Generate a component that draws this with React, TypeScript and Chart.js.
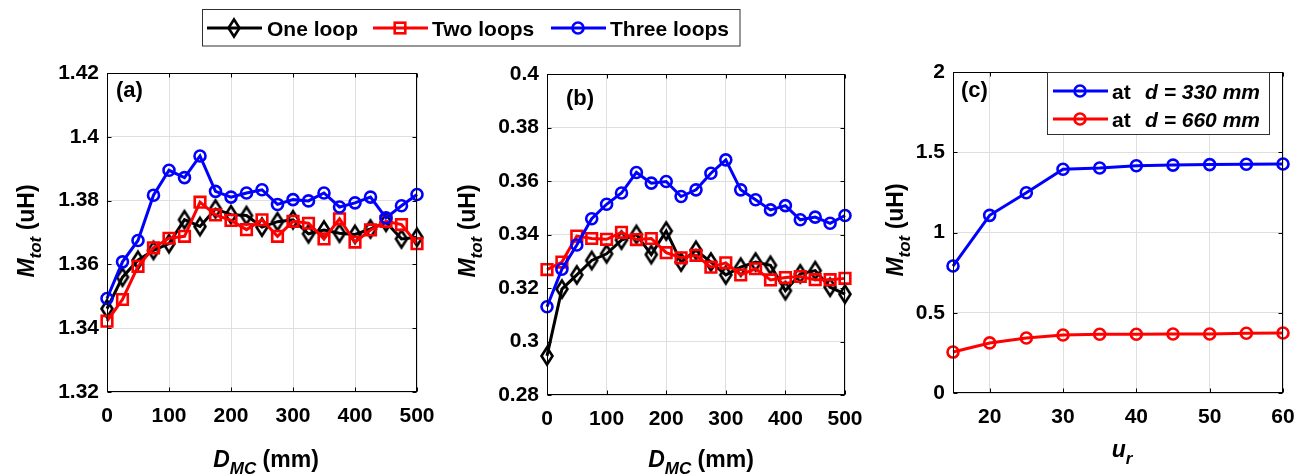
import React, { useEffect, useRef } from 'react';
import { Chart, registerables } from 'chart.js';

Chart.register(...registerables);

// ---------------- data ----------------
const D_MC_MM = [0, 25, 50, 75, 100, 125, 150, 175, 200, 225, 250, 275, 300, 325, 350, 375, 400, 425, 450, 475, 500];

// panel (a)
const A_ONE_LOOP = [1.3461, 1.356, 1.3613, 1.3644, 1.3665, 1.374, 1.3719, 1.3774, 1.3756, 1.3753, 1.3717, 1.3734, 1.374, 1.3696, 1.3708, 1.3698, 1.3694, 1.3711, 1.3732, 1.368, 1.3685];
const A_TWO_LOOPS = [1.3422, 1.349, 1.3594, 1.3652, 1.3682, 1.3688, 1.3795, 1.3755, 1.3738, 1.3709, 1.374, 1.3688, 1.3735, 1.3729, 1.368, 1.3743, 1.367, 1.3708, 1.3735, 1.3725, 1.3665];
const A_THREE_LOOPS = [1.3493, 1.3608, 1.3675, 1.3817, 1.3895, 1.3872, 1.394, 1.3829, 1.3811, 1.3824, 1.3834, 1.3788, 1.3803, 1.3799, 1.3824, 1.378, 1.3793, 1.3811, 1.3746, 1.3784, 1.3819];

// panel (b)
const B_ONE_LOOP = [0.2946, 0.3196, 0.3249, 0.3303, 0.3328, 0.3379, 0.34, 0.3325, 0.3413, 0.3297, 0.3341, 0.3297, 0.3249, 0.3278, 0.3297, 0.3285, 0.319, 0.3253, 0.3265, 0.3203, 0.3177];
const B_TWO_LOOPS = [0.3269, 0.3297, 0.3394, 0.3385, 0.3382, 0.3408, 0.3381, 0.3385, 0.3332, 0.3313, 0.3322, 0.3278, 0.3294, 0.3249, 0.3272, 0.323, 0.3239, 0.3243, 0.3231, 0.3231, 0.3236];
const B_THREE_LOOPS = [0.313, 0.327, 0.3361, 0.3459, 0.3513, 0.3555, 0.3632, 0.3592, 0.3598, 0.3542, 0.3567, 0.3629, 0.3679, 0.3567, 0.353, 0.3492, 0.3508, 0.3455, 0.3465, 0.3442, 0.3471];

// panel (c)
const UR_VALUES = [15, 20, 25, 30, 35, 40, 45, 50, 55, 60];
const C_D330 = [0.791, 1.107, 1.248, 1.394, 1.402, 1.416, 1.42, 1.423, 1.425, 1.427];
const C_D660 = [0.255, 0.312, 0.343, 0.361, 0.366, 0.366, 0.368, 0.368, 0.372, 0.374];

const LOOP_LABELS = ['One loop', 'Two loops', 'Three loops'];
const C_DISTANCES = ['330', '660'];

// tick labels
const D_TICKS = [0, 100, 200, 300, 400, 500];
const A_Y_TICKS = [1.32, 1.34, 1.36, 1.38, 1.4, 1.42];
const B_Y_TICKS = [0.28, 0.3, 0.32, 0.34, 0.36, 0.38, 0.4];
const C_X_TICKS = [20, 30, 40, 50, 60];
const C_Y_TICKS = [0, 0.5, 1, 1.5, 2];

// ---------------- styles / layout ----------------
const W = 1307;
const H = 475;
const FONT = '"Liberation Sans", Arial, Helvetica, sans-serif';
const LOOP_COLORS = ['#000000', '#ff0000', '#0000ff'];
const C_COLORS = ['#0000ff', '#ff0000'];
const GRID = '#dfdfdf';
const TICK_SIZE = 21;
const TITLE_SIZE = 23;
const SUB_SIZE = 17;
const Y_AXIS_W = 70;
const X_AXIS_H = 40;
const LINE_W = 3;
const MARK_W = 2.6;

type Geom = { left: number; right: number; top: number; bottom: number };
const GEOM_A: Geom = { left: 107, right: 417, top: 73, bottom: 392 };
const GEOM_B: Geom = { left: 547, right: 845, top: 74, bottom: 395 };
const GEOM_C: Geom = { left: 953, right: 1283, top: 72, bottom: 393 };

type Seg = { t: string; italic?: boolean; sub?: boolean };

const fmt = (v: any) => String(Number(Number(v).toFixed(4)));

function drawRich(ctx: CanvasRenderingContext2D, segs: Seg[], cx: number, baseline: number, rotate: boolean) {
  const fontOf = (s: Seg) => `${s.italic ? 'italic ' : ''}bold ${s.sub ? SUB_SIZE : TITLE_SIZE}px ${FONT}`;
  ctx.save();
  let total = 0;
  const widths = segs.map((s) => {
    ctx.font = fontOf(s);
    const w = ctx.measureText(s.t).width;
    total += w;
    return w;
  });
  if (rotate) {
    ctx.translate(baseline, cx);
    ctx.rotate(-Math.PI / 2);
  } else {
    ctx.translate(cx, baseline);
  }
  ctx.fillStyle = '#000';
  ctx.textAlign = 'left';
  ctx.textBaseline = 'alphabetic';
  let x = -total / 2;
  segs.forEach((s, i) => {
    ctx.font = fontOf(s);
    ctx.fillText(s.t, x, s.sub ? 7 : 0);
    x += widths[i];
  });
  ctx.restore();
}

const Y_TITLE: Seg[] = [{ t: 'M', italic: true }, { t: 'tot', italic: true, sub: true }, { t: ' (uH)' }];
const D_TITLE: Seg[] = [{ t: 'D', italic: true }, { t: 'MC', italic: true, sub: true }, { t: ' (mm)' }];
const U_TITLE: Seg[] = [{ t: 'u', italic: true }, { t: 'r', italic: true, sub: true }];

function diamondCanvas(color: string) {
  const c = document.createElement('canvas');
  c.width = 18;
  c.height = 24;
  const g = c.getContext('2d')!;
  g.strokeStyle = color;
  g.lineWidth = MARK_W;
  g.beginPath();
  g.moveTo(9, 3.5);
  g.lineTo(14.5, 12);
  g.lineTo(9, 20.5);
  g.lineTo(3.5, 12);
  g.closePath();
  g.stroke();
  return c;
}

function drawMarker(ctx: CanvasRenderingContext2D, kind: string, x: number, y: number, color: string, diamond: HTMLCanvasElement) {
  ctx.save();
  ctx.strokeStyle = color;
  ctx.lineWidth = MARK_W;
  if (kind === 'diamond') {
    ctx.drawImage(diamond, x - diamond.width / 2, y - diamond.height / 2);
  } else if (kind === 'rect') {
    ctx.strokeRect(x - 5.3, y - 5.3, 10.6, 10.6);
  } else {
    ctx.beginPath();
    ctx.arc(x, y, 5.5, 0, Math.PI * 2);
    ctx.stroke();
  }
  ctx.restore();
}

const framePlugin = {
  id: 'frame',
  afterDraw(chart: any) {
    const { ctx, chartArea: a, scales } = chart;
    ctx.save();
    ctx.strokeStyle = '#000';
    ctx.lineWidth = 1;
    const L = Math.round(a.left) + 0.5;
    const R = Math.round(a.right) - 0.5;
    const T = Math.round(a.top) + 0.5;
    const B = Math.round(a.bottom) - 0.5;
    ctx.strokeRect(L, T, R - L, B - T);
    const tl = 4;
    ctx.beginPath();
    scales.x.ticks.forEach((t: any) => {
      const px = Math.round(scales.x.getPixelForValue(t.value)) + 0.5;
      ctx.moveTo(px, B);
      ctx.lineTo(px, B - tl);
      ctx.moveTo(px, T);
      ctx.lineTo(px, T + tl);
    });
    scales.y.ticks.forEach((t: any) => {
      const py = Math.round(scales.y.getPixelForValue(t.value)) + 0.5;
      ctx.moveTo(L, py);
      ctx.lineTo(L + tl, py);
      ctx.moveTo(R, py);
      ctx.lineTo(R - tl, py);
    });
    ctx.stroke();
    ctx.restore();
  },
};

type Panel = {
  geom: Geom;
  datasets: any[];
  xMin: number;
  xMax: number;
  xTicks: number[];
  yMin: number;
  yMax: number;
  yTicks: number[];
  decor: (ctx: CanvasRenderingContext2D) => void;
};

function buildConfig(p: Panel): any {
  const g = p.geom;
  const tickFont = { family: FONT, size: TICK_SIZE, weight: 'bold' as const };
  return {
    type: 'line',
    data: { datasets: p.datasets },
    options: {
      animation: false,
      responsive: false,
      devicePixelRatio: 1,
      events: [],
      layout: {
        padding: { left: g.left - Y_AXIS_W, right: W - g.right, top: g.top, bottom: H - g.bottom - X_AXIS_H },
      },
      plugins: { legend: { display: false }, tooltip: { enabled: false }, title: { display: false } },
      scales: {
        x: {
          type: 'linear',
          min: p.xMin,
          max: p.xMax,
          afterBuildTicks: (s: any) => {
            s.ticks = p.xTicks.map((v) => ({ value: v }));
          },
          afterFit: (s: any) => {
            s.height = X_AXIS_H;
          },
          grid: { color: GRID, lineWidth: 1, drawTicks: false },
          border: { display: false },
          ticks: { font: tickFont, color: '#000', padding: 12, maxRotation: 0, autoSkip: false, callback: fmt },
        },
        y: {
          type: 'linear',
          min: p.yMin,
          max: p.yMax,
          afterBuildTicks: (s: any) => {
            s.ticks = p.yTicks.map((v) => ({ value: v }));
          },
          afterFit: (s: any) => {
            s.width = Y_AXIS_W;
          },
          grid: { color: GRID, lineWidth: 1, drawTicks: false },
          border: { display: false },
          ticks: { font: tickFont, color: '#000', padding: 8, autoSkip: false, callback: fmt },
        },
      },
    },
    plugins: [
      framePlugin,
      {
        id: 'decor',
        afterDraw(chart: any) {
          p.decor(chart.ctx);
        },
      },
    ],
  };
}

function loopDatasets(xs: number[], series: number[][], diamond: HTMLCanvasElement) {
  const styles: any[] = [diamond, 'rect', 'circle'];
  const radii = [7, 7.5, 5.5];
  return series.map((ys, i) => ({
    label: LOOP_LABELS[i],
    data: xs.map((x, j) => ({ x, y: ys[j] })),
    borderColor: LOOP_COLORS[i],
    borderWidth: LINE_W,
    pointStyle: styles[i],
    pointRadius: radii[i],
    pointHoverRadius: radii[i],
    pointBorderWidth: MARK_W,
    pointBorderColor: LOOP_COLORS[i],
    pointBackgroundColor: 'rgba(0,0,0,0)',
    tension: 0,
    fill: false,
    clip: false,
    order: 3 - i,
  }));
}

function cDatasets() {
  return [C_D330, C_D660].map((ys, i) => ({
    label: `at d = ${C_DISTANCES[i]} mm`,
    data: UR_VALUES.map((x, j) => ({ x, y: ys[j] })),
    borderColor: C_COLORS[i],
    borderWidth: LINE_W,
    pointStyle: 'circle',
    pointRadius: 5.5,
    pointHoverRadius: 5.5,
    pointBorderWidth: MARK_W,
    pointBorderColor: C_COLORS[i],
    pointBackgroundColor: 'rgba(0,0,0,0)',
    tension: 0,
    fill: false,
    clip: false,
    order: i + 1,
  }));
}

function drawTag(ctx: CanvasRenderingContext2D, text: string, x: number, baseline: number) {
  ctx.save();
  ctx.fillStyle = '#000';
  ctx.font = `bold 22px ${FONT}`;
  ctx.textAlign = 'left';
  ctx.textBaseline = 'alphabetic';
  ctx.fillText(text, x, baseline);
  ctx.restore();
}

function drawTopLegend(ctx: CanvasRenderingContext2D, diamond: HTMLCanvasElement) {
  ctx.save();
  ctx.fillStyle = '#fff';
  ctx.fillRect(203, 10, 537, 36);
  ctx.strokeStyle = '#303030';
  ctx.lineWidth = 1;
  ctx.strokeRect(202.5, 9.5, 537.5, 36.5);
  const items = [
    { x0: 207, x1: 262, mx: 234, tx: 267, kind: 'diamond' },
    { x0: 373, x1: 428, mx: 400, tx: 432, kind: 'rect' },
    { x0: 551, x1: 606, mx: 578, tx: 610, kind: 'circle' },
  ];
  const cy = 28;
  items.forEach((it, i) => {
    ctx.strokeStyle = LOOP_COLORS[i];
    ctx.lineWidth = LINE_W;
    ctx.beginPath();
    ctx.moveTo(it.x0, cy);
    ctx.lineTo(it.x1, cy);
    ctx.stroke();
    drawMarker(ctx, it.kind, it.mx, cy, LOOP_COLORS[i], diamond);
    ctx.fillStyle = '#000';
    ctx.font = `bold 21px ${FONT}`;
    ctx.textAlign = 'left';
    ctx.textBaseline = 'alphabetic';
    ctx.fillText(LOOP_LABELS[i], it.tx, 36);
  });
  ctx.restore();
}

function drawCLegend(ctx: CanvasRenderingContext2D, diamond: HTMLCanvasElement) {
  ctx.save();
  ctx.fillStyle = '#fff';
  ctx.fillRect(1047, 72, 223, 63);
  ctx.strokeStyle = '#303030';
  ctx.lineWidth = 1;
  ctx.strokeRect(1047.5, 72.5, 222, 62);
  [91, 119].forEach((cy, i) => {
    ctx.strokeStyle = C_COLORS[i];
    ctx.lineWidth = LINE_W;
    ctx.beginPath();
    ctx.moveTo(1053, cy);
    ctx.lineTo(1108, cy);
    ctx.stroke();
    drawMarker(ctx, 'circle', 1080, cy, C_COLORS[i], diamond);
    ctx.fillStyle = '#000';
    ctx.textAlign = 'left';
    ctx.textBaseline = 'alphabetic';
    ctx.font = `bold 21px ${FONT}`;
    ctx.fillText('at', 1112, cy + 8);
    ctx.font = `italic bold 21px ${FONT}`;
    ctx.fillText(`d = ${C_DISTANCES[i]} mm`, 1145, cy + 8);
  });
  ctx.restore();
}

export default function App() {
  const refA = useRef<HTMLCanvasElement>(null);
  const refB = useRef<HTMLCanvasElement>(null);
  const refC = useRef<HTMLCanvasElement>(null);

  useEffect(() => {
    const diamond = diamondCanvas('#000000');
    const capOff = 0.358 * TITLE_SIZE;
    const panelA: Panel = {
      geom: GEOM_A,
      datasets: loopDatasets(D_MC_MM, [A_ONE_LOOP, A_TWO_LOOPS, A_THREE_LOOPS], diamond),
      xMin: 0,
      xMax: 500,
      xTicks: D_TICKS,
      yMin: 1.32,
      yMax: 1.42,
      yTicks: A_Y_TICKS,
      decor: (ctx) => {
        drawTag(ctx, '(a)', 116, 97);
        drawRich(ctx, Y_TITLE, 231, 25.5 + capOff, true);
        drawRich(ctx, D_TITLE, 266, 467, false);
        drawTopLegend(ctx, diamond);
      },
    };
    const panelB: Panel = {
      geom: GEOM_B,
      datasets: loopDatasets(D_MC_MM, [B_ONE_LOOP, B_TWO_LOOPS, B_THREE_LOOPS], diamond),
      xMin: 0,
      xMax: 500,
      xTicks: D_TICKS,
      yMin: 0.28,
      yMax: 0.4,
      yTicks: B_Y_TICKS,
      decor: (ctx) => {
        drawTag(ctx, '(b)', 566, 105);
        drawRich(ctx, Y_TITLE, 231, 467 + capOff, true);
        drawRich(ctx, D_TITLE, 701, 467, false);
      },
    };
    const panelC: Panel = {
      geom: GEOM_C,
      datasets: cDatasets(),
      xMin: 15,
      xMax: 60,
      xTicks: C_X_TICKS,
      yMin: 0,
      yMax: 2,
      yTicks: C_Y_TICKS,
      decor: (ctx) => {
        drawTag(ctx, '(c)', 961, 97);
        drawRich(ctx, Y_TITLE, 230, 895 + capOff, true);
        drawRich(ctx, U_TITLE, 1122, 457, false);
        drawCLegend(ctx, diamond);
      },
    };
    const charts = [
      new Chart(refA.current!, buildConfig(panelA)),
      new Chart(refB.current!, buildConfig(panelB)),
      new Chart(refC.current!, buildConfig(panelC)),
    ];
    return () => charts.forEach((c) => c.destroy());
  }, []);

  const cs: React.CSSProperties = { position: 'absolute', left: 0, top: 0, width: W, height: H };
  return (
    <div style={{ position: 'absolute', left: 0, top: 0, width: W, height: H, background: '#fff', overflow: 'hidden' }}>
      <canvas ref={refA} width={W} height={H} style={cs} />
      <canvas ref={refB} width={W} height={H} style={cs} />
      <canvas ref={refC} width={W} height={H} style={cs} />
    </div>
  );
}
